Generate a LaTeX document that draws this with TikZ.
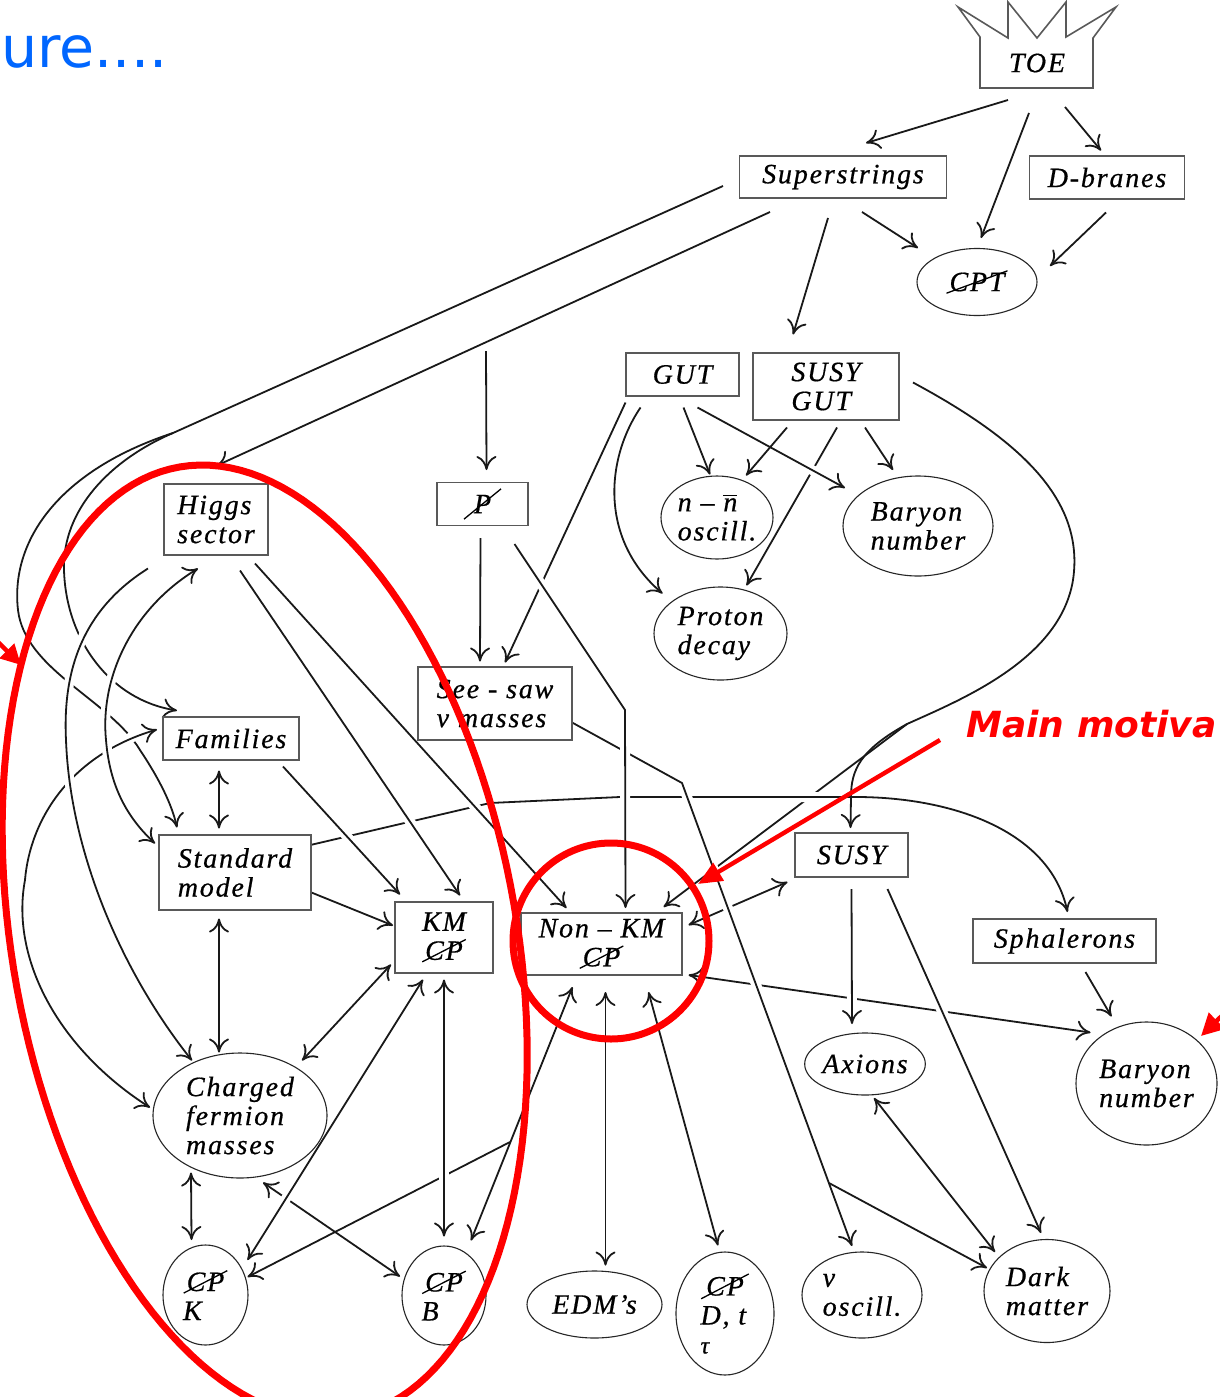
\documentclass[tikz,border=0pt]{standalone}
\usepackage{fontspec}
\setmainfont{Liberation Serif}[LetterSpace=6.5, FakeBold=0.6]
\newfontfamily\dejavu{DejaVu Sans}
\usetikzlibrary{shapes.geometric,arrows.meta}
\pgfdeclarelayer{bg}
\pgfdeclarelayer{fg}
\pgfsetlayers{bg,main,fg}
\definecolor{uablue}{HTML}{0066FF}
\newcommand{\crossed}[2][1.5pt]{\tikz[baseline=(cr.base)]{\node[shape=rectangle,draw=none,fill=none,inner sep=0pt,outer sep=0pt,minimum width=0pt,minimum height=0pt,anchor=center] (cr) {#2};\draw[black,line width=0.65pt,-] ([shift={(-#1,-0.6*#1)}]cr.south west) -- ([shift={(#1,0.6*#1)}]cr.north east);}}
\tikzset{
  lbl/.style={font=\itshape\fontsize{14}{14.5}\selectfont, text=black, align=left, inner sep=0pt},
  box/.style={lbl, rectangle, draw=black!65, line width=0.8pt, fill=white},
  ell/.style={lbl, ellipse, draw=black!85, line width=0.55pt, fill=white},
  con/.style={line width=0.9pt, draw=black!90},
  arr/.style={con, -{Computer Modern Rightarrow[length=7pt,width=10pt]}},
  darr/.style={con, {Computer Modern Rightarrow[length=7pt,width=10pt]}-{Computer Modern Rightarrow[length=7pt,width=10pt]}},
  over/.style={preaction={draw=white, line width=5pt, -, shorten <=8pt, shorten >=8pt}},
  redline/.style={draw=red, line width=3.5pt},
}
\begin{document}
\begin{tikzpicture}[x=0.5pt,y=-0.5pt]
\useasboundingbox (0,0) rectangle (1220,1397);
\begin{pgfonlayer}{bg}
\fill[white] (0,0) rectangle (1220,1397);
\end{pgfonlayer}

% crown
\draw[line width=0.8pt, draw=black!65, fill=white] (980,88) -- (980,37) -- (958,7) -- (1008,38) -- (1008,2) -- (1037,38) -- (1066,2) -- (1066,37) -- (1116,7) -- (1093,38) -- (1093,88) -- cycle;
\node[lbl] (toe) at (1037,63) {TOE};

% nodes
\node[box, minimum width=103.5pt, minimum height=21pt] (sup) at (843,177) {Superstrings};
\node[box, minimum width=77.5pt, minimum height=21.5pt] (dbr) at (1107,177.5) {D-branes};
\node[ell, minimum width=60pt, minimum height=33.5pt] (cpt) at (977,282) {\crossed{CPT}};
\node[box, minimum width=56.5pt, minimum height=21.5pt] (gut) at (682.5,374.5) {GUT};
\node[box, minimum width=73pt, minimum height=33.5pt] (sgut) at (826,386.5) {SUSY\\GUT};
\node[ell, minimum width=56pt, minimum height=41.5pt] (nn) at (717,517.5) {n – $\overline{\mbox{n}}$\\oscill.};
\node[ell, minimum width=75pt, minimum height=50pt] (bar1) at (918,526) {Baryon\\number};
\node[ell, minimum width=66.5pt, minimum height=46.5pt] (prot) at (720.5,633.5) {Proton\\decay};
\node[box, minimum width=45.5pt, minimum height=21.5pt] (pb) at (482.5,504) {\crossed[5pt]{P}};
\node[box, minimum width=77pt, minimum height=36.5pt] (see) at (495,703.5) {See - saw\\ν masses};
\node[box, minimum width=52pt, minimum height=35.5pt] (higgs) at (216,519.5) {Higgs\\sector};
\node[box, minimum width=68pt, minimum height=21.5pt] (fam) at (231,738.5) {Families};
\node[box, minimum width=76pt, minimum height=37.5pt] (sm) at (235,872.5) {Standard\\model};
\node[box, minimum width=49pt, minimum height=35.5pt, align=center] (km) at (444,937.5) {KM\\\crossed{CP}};
\node[box, minimum width=80.5pt, minimum height=31pt, align=center] (nkm) at (601.5,944) {Non – KM\\\crossed{CP}};
\node[box, minimum width=56.5pt, minimum height=22pt] (susy) at (851.5,855) {SUSY};
\node[box, minimum width=91.5pt, minimum height=22pt] (sph) at (1064.5,941) {Sphalerons};
\node[ell, minimum width=57pt, minimum height=31pt] (ax) at (865,1064) {Axions};
\node[ell, minimum width=70.5pt, minimum height=61.5pt] (bar2) at (1146.5,1083.5) {Baryon\\number};
\node[ell, minimum width=60pt, minimum height=43pt] (nuo) at (862,1295) {ν\\oscill.};
\node[ell, minimum width=63pt, minimum height=51.5pt] (dm) at (1047,1291) {Dark\\matter};
\node[ell, minimum width=87pt, minimum height=62.5pt] (cfm) at (240,1115.5) {Charged\\fermion\\masses};
\node[ell, minimum width=42.5pt, minimum height=50pt] (cpk) at (205.5,1295) {\crossed{CP}\\K};
\node[ell, minimum width=42pt, minimum height=49.5pt] (cpb) at (444,1295.5) {\crossed{CP}\\B};
\node[ell, minimum width=67.5pt, minimum height=33.5pt] (edm) at (594.5,1304.5) {EDM’s};
\node[ell, minimum width=49pt, minimum height=61.5pt] (cpd) at (725,1313.5) {\crossed[2.5pt]{CP}\\D, t\\\fontsize{12}{13}\selectfont τ};

% junction coordinates
\coordinate (j1) at (907,724);
\coordinate (j2) at (829,1183);
\coordinate (j3) at (486,351);
\coordinate (j4) at (510,1142);
\coordinate (j5) at (851,797);
\coordinate (k1) at (173,433);

\begin{pgfonlayer}{bg}
% ---- lines that pass under others
\draw[arr] (j1) -- ([shift={(62,-37)}]nkm.center);
\draw[arr] ([shift={(-120,9)}]sup.center) -- (k1) .. controls (60,470) and (10,540) .. (18,610) .. controls (25,670) and (110,700) .. (140,750) .. controls (160,780) and (172,805) .. ([shift={(-58,-45)}]sm.center);
\draw[arr] (k1) .. controls (110,460) and (62,510) .. (64,570) .. controls (66,640) and (110,700) .. ([shift={(-54,-28)}]fam.center);
\draw[arr] ([shift={(-57,28)}]gut.center) -- ([shift={(10,-41)}]see.center);
\draw[arr] ([shift={(11,41)}]sgut.center) -- ([shift={(26,-48)}]prot.center);
\draw[arr] (j4) -- ([shift={(42,-18)}]cpk.center);
\draw[darr] ([shift={(23,67)}]cfm.center) -- ([shift={(-44,-19)}]cpb.center);
\draw[darr] ([shift={(87,-19)}]nkm.center) -- ([shift={(-64,27)}]susy.center);
\draw[darr] ([shift={(87,31)}]nkm.center) -- ([shift={(-56,-51)}]bar2.center);
% ---- standard model -> sphalerons
\draw[arr,over] ([shift={(69,-26)}]sm.center) -- (490,803) -- (620,797) -- (j5) .. controls (950,796) and (1050,830) .. ([shift={(3,-29)}]sph.center);
% ---- see-saw -> nu oscill, dark matter
\draw[arr,over] ([shift={(68,14)}]see.center) -- (682,783) -- ([shift={(-10,-49)}]nuo.center);
\draw[arr] (j2) -- ([shift={(-60,-23)}]dm.center);
% ---- P -> non-KM
\draw[arr,over] ([shift={(32,40)}]pb.center) -- (625,710) -- ([shift={(24,-36)}]nkm.center);
% ---- Higgs, Families -> KM / non-KM
\draw[arr,over] ([shift={(24,51)}]higgs.center) -- ([shift={(16,-42)}]km.center);
\draw[arr,over] ([shift={(39,44)}]higgs.center) -- ([shift={(-35,-36)}]nkm.center);
\draw[arr,over] ([shift={(52,28)}]fam.center) -- ([shift={(-44,-43)}]km.center);
% ---- left loops
\draw[darr,over] ([shift={(-74,-9)}]fam.center) .. controls (70,755) and (30,820) .. (25,880) .. controls (10,960) and (60,1050) .. ([shift={(-90,-8)}]cfm.center);
\draw[arr,over] ([shift={(-68,49)}]higgs.center) .. controls (90,605) and (62,660) .. (66,740) .. controls (70,850) and (120,970) .. ([shift={(-48,-55)}]cfm.center);
\draw[darr,over] ([shift={(-18,49)}]higgs.center) .. controls (130,610) and (100,680) .. (106,740) .. controls (110,790) and (130,820) .. ([shift={(-80,-29)}]sm.center);
% ---- GUT -> Baryon
\draw[arr,over] ([shift={(15,33)}]gut.center) -- ([shift={(-73,-38)}]bar1.center);
% ---- KM lower
\draw[darr,over] ([shift={(-21,42)}]km.center) -- ([shift={(42,-35)}]cpk.center);
\draw[darr,over] ([shift={(0,42)}]km.center) -- ([shift={(0,-59)}]cpb.center);
% ---- SUSY lower
\draw[arr,over] ([shift={(0,34)}]susy.center) -- ([shift={(-13,-40)}]ax.center);
\draw[arr,over] ([shift={(36,34)}]susy.center) -- ([shift={(-6,-58)}]dm.center);
% ---- the rest
\draw[arr] ([shift={(-29,37)}]toe.center) -- ([shift={(23,-34)}]sup.center);
\draw[arr] ([shift={(-8,50)}]toe.center) -- ([shift={(4,-44)}]cpt.center);
\draw[arr] ([shift={(28,44)}]toe.center) -- ([shift={(-6,-27)}]dbr.center);
\draw[arr] ([shift={(19,35)}]sup.center) -- ([shift={(-59,-34)}]cpt.center);
\draw[arr] ([shift={(-1,35)}]dbr.center) -- ([shift={(73,-16)}]cpt.center);
\draw[arr] ([shift={(-15,41)}]sup.center) -- ([shift={(-33,-52)}]sgut.center);
\draw[arr] ([shift={(-73,35)}]sup.center) -- ([shift={(1,-54)}]higgs.center);
\draw[arr] (j3) -- ([shift={(4,-34)}]pb.center);
\draw[arr] ([shift={(-2,34)}]pb.center) -- ([shift={(-15,-42)}]see.center);
\draw[arr] ([shift={(-42,33)}]gut.center) .. controls (605,460) and (600,540) .. ([shift={(-58,-40)}]prot.center);
\draw[arr] ([shift={(1,33)}]gut.center) -- ([shift={(-7,-43)}]nn.center);
\draw[arr] ([shift={(-39,41)}]sgut.center) -- ([shift={(29,-42)}]nn.center);
\draw[arr] ([shift={(39,41)}]sgut.center) -- ([shift={(-25,-56)}]bar1.center);
\draw[arr] ([shift={(87,-4)}]sgut.center) .. controls (1020,440) and (1085,500) .. (1073,580) .. controls (1060,660) and (960,700) .. (j1) .. controls (860,750) and (851,770) .. (j5) -- ([shift={(-1,-27)}]susy.center);
\draw[darr] ([shift={(-12,32)}]fam.center) -- ([shift={(-16,-44)}]sm.center);
\draw[darr] ([shift={(-16,46)}]sm.center) -- ([shift={(-21,-63)}]cfm.center);
\draw[arr] ([shift={(69,17)}]sm.center) -- ([shift={(-51,-12)}]km.center);
\draw[darr] ([shift={(-53,27)}]km.center) -- ([shift={(62,-55)}]cfm.center);
\draw[darr] ([shift={(-29,43)}]nkm.center) -- ([shift={(27,-55)}]cpb.center);
\draw[darr] ([shift={(-49,57)}]cfm.center) -- ([shift={(-14,-55)}]cpk.center);
\draw[darr] ([shift={(4,48)}]nkm.center) -- ([shift={(11,-39)}]edm.center);
\draw[darr] ([shift={(47,48)}]nkm.center) -- ([shift={(-7,-68)}]cpd.center);
\draw[arr] ([shift={(21,31)}]sph.center) -- ([shift={(-35,-67)}]bar2.center);
\draw[darr] ([shift={(9,34)}]ax.center) -- ([shift={(-52,-39)}]dm.center);
\end{pgfonlayer}

\begin{pgfonlayer}{fg}
\begin{scope}
\clip (0,0) rectangle (1220,1397);
\draw[redline] plot[domain=0:360,samples=160] ({264.7+255*cos(\x)+62.4*sin(\x)},{942+477*sin(\x)}) -- cycle;
\draw[redline] (611,941) circle[radius=98];
\coordinate (rA) at (940,740);
\coordinate (rB) at (698,884);
\draw[red,line width=2.2pt,-{Triangle[length=12pt,width=10pt]}] (rA) -- (rB);
\coordinate (rC) at (-8,636);
\coordinate (rD) at (21,665);
\draw[red,line width=2.2pt,-{Triangle[length=10pt,width=10pt]}] (rC) -- (rD);
\coordinate (rE) at (1234,1004);
\coordinate (rF) at (1201,1036);
\draw[red,line width=2.2pt,-{Triangle[length=11pt,width=11pt]}] (rE) -- (rF);
\end{scope}
\node[font=\dejavu\bfseries\itshape\fontsize{18}{18}\selectfont, text=red, anchor=base west, inner sep=0pt] (mm) at (966,737) {Main motiva};
\node[font=\dejavu\fontsize{28.5}{28.5}\selectfont, text=uablue, anchor=base west, inner sep=0pt] (ure) at (1,67) {ure....};
\end{pgfonlayer}
\end{tikzpicture}
\end{document}
